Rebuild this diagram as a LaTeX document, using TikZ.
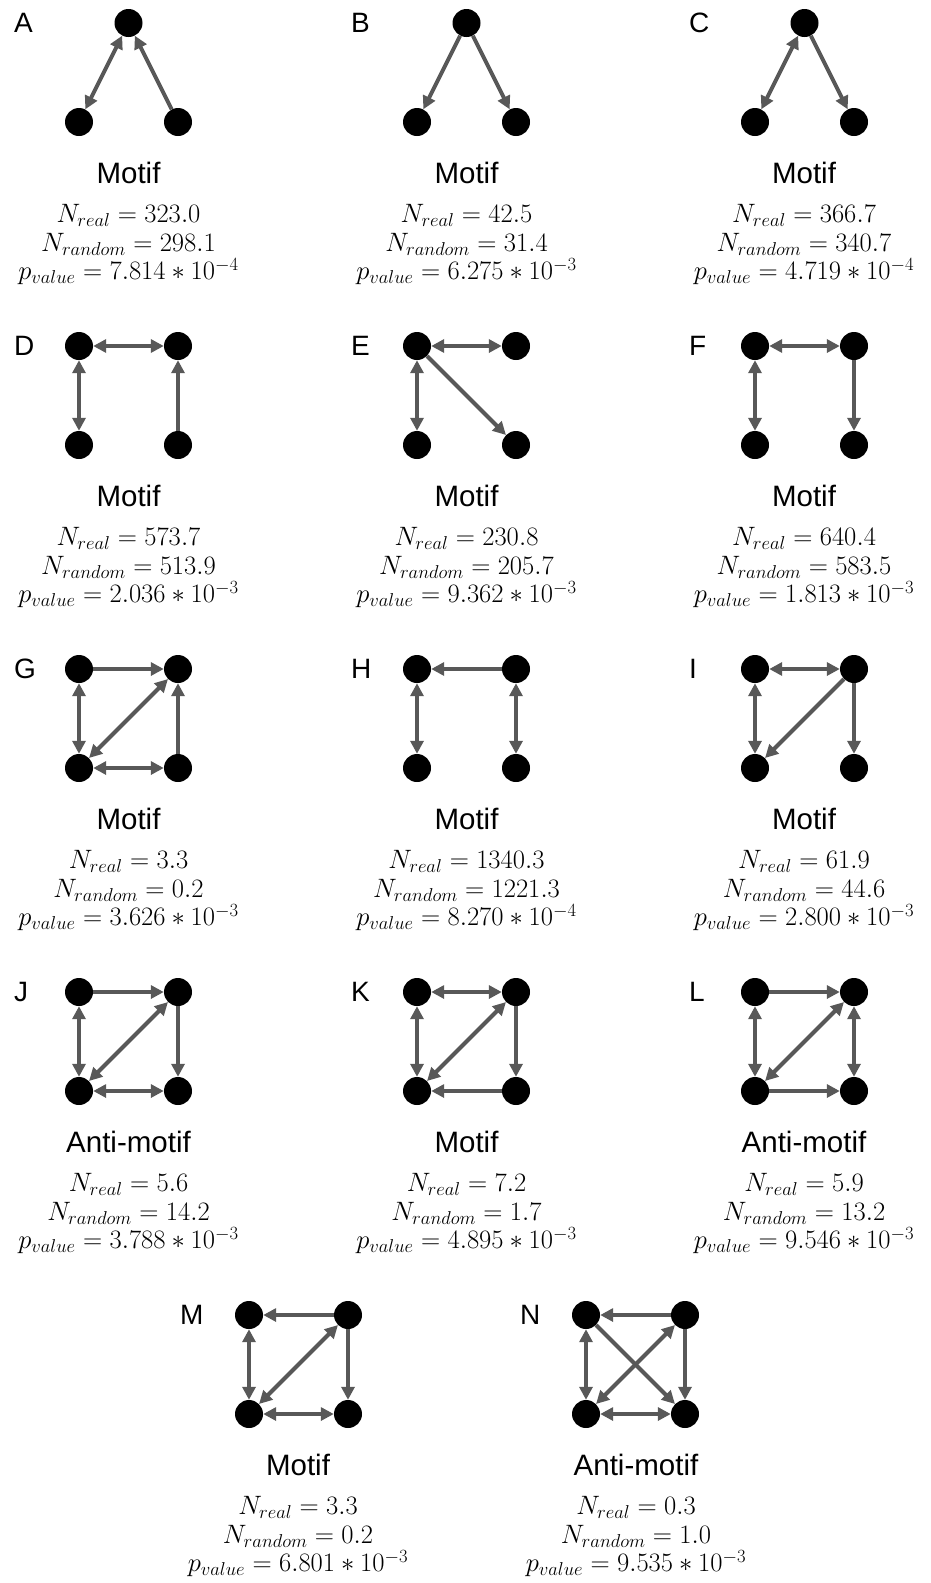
\RequirePackage{fix-cm}
\documentclass[tikz,border=0pt]{standalone}
\usepackage{fontspec}
\newfontfamily\labelfont{Liberation Sans}
\usetikzlibrary{arrows.meta}
\definecolor{edgegray}{RGB}{88,88,88}
% fixed line pitch for the three statistic lines
\newcommand{\statpitch}{\lineskiplimit=-50pt\relax\lineskip=0pt\relax}
\tikzset{
  dot/.style={circle, fill=black, minimum size=28pt, inner sep=0pt},
  edge/.style={draw=edgegray, line width=4pt},
  fwd/.style={edge, -{Triangle[length=13pt,width=13pt]}},
  both/.style={edge, {Triangle[length=13pt,width=13pt]}-{Triangle[length=13pt,width=13pt]}},
  paneltag/.style={anchor=base west, inner sep=0pt, font=\labelfont\fontsize{28}{30}\selectfont},
  kindtext/.style={anchor=base, inner sep=0pt, font=\labelfont\fontsize{29.5}{32}\selectfont},
  stattext/.style={anchor=north, inner sep=0pt, align=center,
    font=\fontsize{26.6}{28.4}\selectfont},
}
% four nodes of a square motif: prefix, top-left x, top-left y
\newcommand{\squarenodes}[3]{%
  \node[dot] (#1tl) at (#2,#3) {};
  \node[dot] (#1tr) at (#2+99,#3) {};
  \node[dot] (#1bl) at (#2,#3+99) {};
  \node[dot] (#1br) at (#2+99,#3+99) {};
}
% three nodes of a triangle motif: prefix, bottom-left x, top y
\newcommand{\trinodes}[3]{%
  \node[dot] (#1t) at (#2+49.5,#3) {};
  \node[dot] (#1bl) at (#2,#3+99) {};
  \node[dot] (#1br) at (#2+99,#3+99) {};
}
% caption block: prefix, centre x, row top y, kind, N real, N random, p mantissa, p exponent
\newcommand{\captionblock}[8]{%
  \node[kindtext] (#1kind) at (#2,#3+160) {#4};
  \node[stattext] (#1stats) at (#2,#3+181.6)
    {\statpitch $N_{real} = #5$\\ $N_{random} = #6$\\ $p_{value} = #7 * 10^{#8}$};
}
\begin{document}
\begin{tikzpicture}[x=1pt,y=-1pt]
\useasboundingbox[fill=white] (0,0) rectangle (930,1583);

% ---- row 1 ----
\node[paneltag] (tagA) at (14,32) {A};
\node[paneltag] (tagB) at (351,32) {B};
\node[paneltag] (tagC) at (689,32) {C};
\trinodes{A}{79}{23}
\trinodes{B}{417}{23}
\trinodes{C}{755}{23}
\draw[both] (Abl) -- (At);
\draw[fwd] (Abr) -- (At);
\draw[fwd] (Bt) -- (Bbl);
\draw[fwd] (Bt) -- (Bbr);
\draw[both] (Cbl) -- (Ct);
\draw[fwd] (Ct) -- (Cbr);
\captionblock{A}{128.5}{23}{Motif}{323.0}{298.1}{7.814}{-4}
\captionblock{B}{466.5}{23}{Motif}{42.5}{31.4}{6.275}{-3}
\captionblock{C}{804}{23}{Motif}{366.7}{340.7}{4.719}{-4}

% ---- row 2 ----
\node[paneltag] (tagD) at (14,355) {D};
\node[paneltag] (tagE) at (351,355) {E};
\node[paneltag] (tagF) at (689,355) {F};
\squarenodes{D}{79}{346}
\squarenodes{E}{417}{346}
\squarenodes{F}{755}{346}
\draw[both] (Dtl) -- (Dtr);
\draw[both] (Dtl) -- (Dbl);
\draw[fwd] (Dbr) -- (Dtr);
\draw[both] (Etl) -- (Etr);
\draw[both] (Etl) -- (Ebl);
\draw[fwd] (Etl) -- (Ebr);
\draw[both] (Ftl) -- (Ftr);
\draw[both] (Ftl) -- (Fbl);
\draw[fwd] (Ftr) -- (Fbr);
\captionblock{D}{128.5}{346}{Motif}{573.7}{513.9}{2.036}{-3}
\captionblock{E}{466.5}{346}{Motif}{230.8}{205.7}{9.362}{-3}
\captionblock{F}{804}{346}{Motif}{640.4}{583.5}{1.813}{-3}

% ---- row 3 ----
\node[paneltag] (tagG) at (14,678) {G};
\node[paneltag] (tagH) at (351,678) {H};
\node[paneltag] (tagI) at (689,678) {I};
\squarenodes{G}{79}{669}
\squarenodes{H}{417}{669}
\squarenodes{I}{755}{669}
\draw[fwd] (Gtl) -- (Gtr);
\draw[both] (Gtl) -- (Gbl);
\draw[both] (Gbl) -- (Gtr);
\draw[fwd] (Gbr) -- (Gtr);
\draw[both] (Gbl) -- (Gbr);
\draw[fwd] (Htr) -- (Htl);
\draw[both] (Htl) -- (Hbl);
\draw[both] (Htr) -- (Hbr);
\draw[both] (Itl) -- (Itr);
\draw[both] (Itl) -- (Ibl);
\draw[fwd] (Itr) -- (Ibl);
\draw[fwd] (Itr) -- (Ibr);
\captionblock{G}{128.5}{669}{Motif}{3.3}{0.2}{3.626}{-3}
\captionblock{H}{466.5}{669}{Motif}{1340.3}{1221.3}{8.270}{-4}
\captionblock{I}{804}{669}{Motif}{61.9}{44.6}{2.800}{-3}

% ---- row 4 ----
\node[paneltag] (tagJ) at (14,1001) {J};
\node[paneltag] (tagK) at (351,1001) {K};
\node[paneltag] (tagL) at (689,1001) {L};
\squarenodes{J}{79}{992}
\squarenodes{K}{417}{992}
\squarenodes{L}{755}{992}
\draw[fwd] (Jtl) -- (Jtr);
\draw[both] (Jtl) -- (Jbl);
\draw[both] (Jbl) -- (Jtr);
\draw[fwd] (Jtr) -- (Jbr);
\draw[both] (Jbl) -- (Jbr);
\draw[both] (Ktl) -- (Ktr);
\draw[both] (Ktl) -- (Kbl);
\draw[both] (Kbl) -- (Ktr);
\draw[fwd] (Ktr) -- (Kbr);
\draw[fwd] (Kbr) -- (Kbl);
\draw[fwd] (Ltl) -- (Ltr);
\draw[both] (Ltl) -- (Lbl);
\draw[both] (Lbl) -- (Ltr);
\draw[both] (Ltr) -- (Lbr);
\draw[fwd] (Lbl) -- (Lbr);
\captionblock{J}{128.5}{992}{Anti-motif}{5.6}{14.2}{3.788}{-3}
\captionblock{K}{466.5}{992}{Motif}{7.2}{1.7}{4.895}{-3}
\captionblock{L}{804}{992}{Anti-motif}{5.9}{13.2}{9.546}{-3}

% ---- row 5 ----
\node[paneltag] (tagM) at (180,1324) {M};
\node[paneltag] (tagN) at (520,1324) {N};
\squarenodes{M}{249}{1315}
\squarenodes{N}{586}{1315}
\draw[fwd] (Mtr) -- (Mtl);
\draw[both] (Mtl) -- (Mbl);
\draw[both] (Mbl) -- (Mtr);
\draw[fwd] (Mtr) -- (Mbr);
\draw[both] (Mbl) -- (Mbr);
\draw[fwd] (Ntr) -- (Ntl);
\draw[both] (Ntl) -- (Nbl);
\draw[fwd] (Ntl) -- (Nbr);
\draw[both] (Nbl) -- (Ntr);
\draw[fwd] (Ntr) -- (Nbr);
\draw[both] (Nbl) -- (Nbr);
\captionblock{M}{298}{1315}{Motif}{3.3}{0.2}{6.801}{-3}
\captionblock{N}{636}{1315}{Anti-motif}{0.3}{1.0}{9.535}{-3}
\end{tikzpicture}
\end{document}
